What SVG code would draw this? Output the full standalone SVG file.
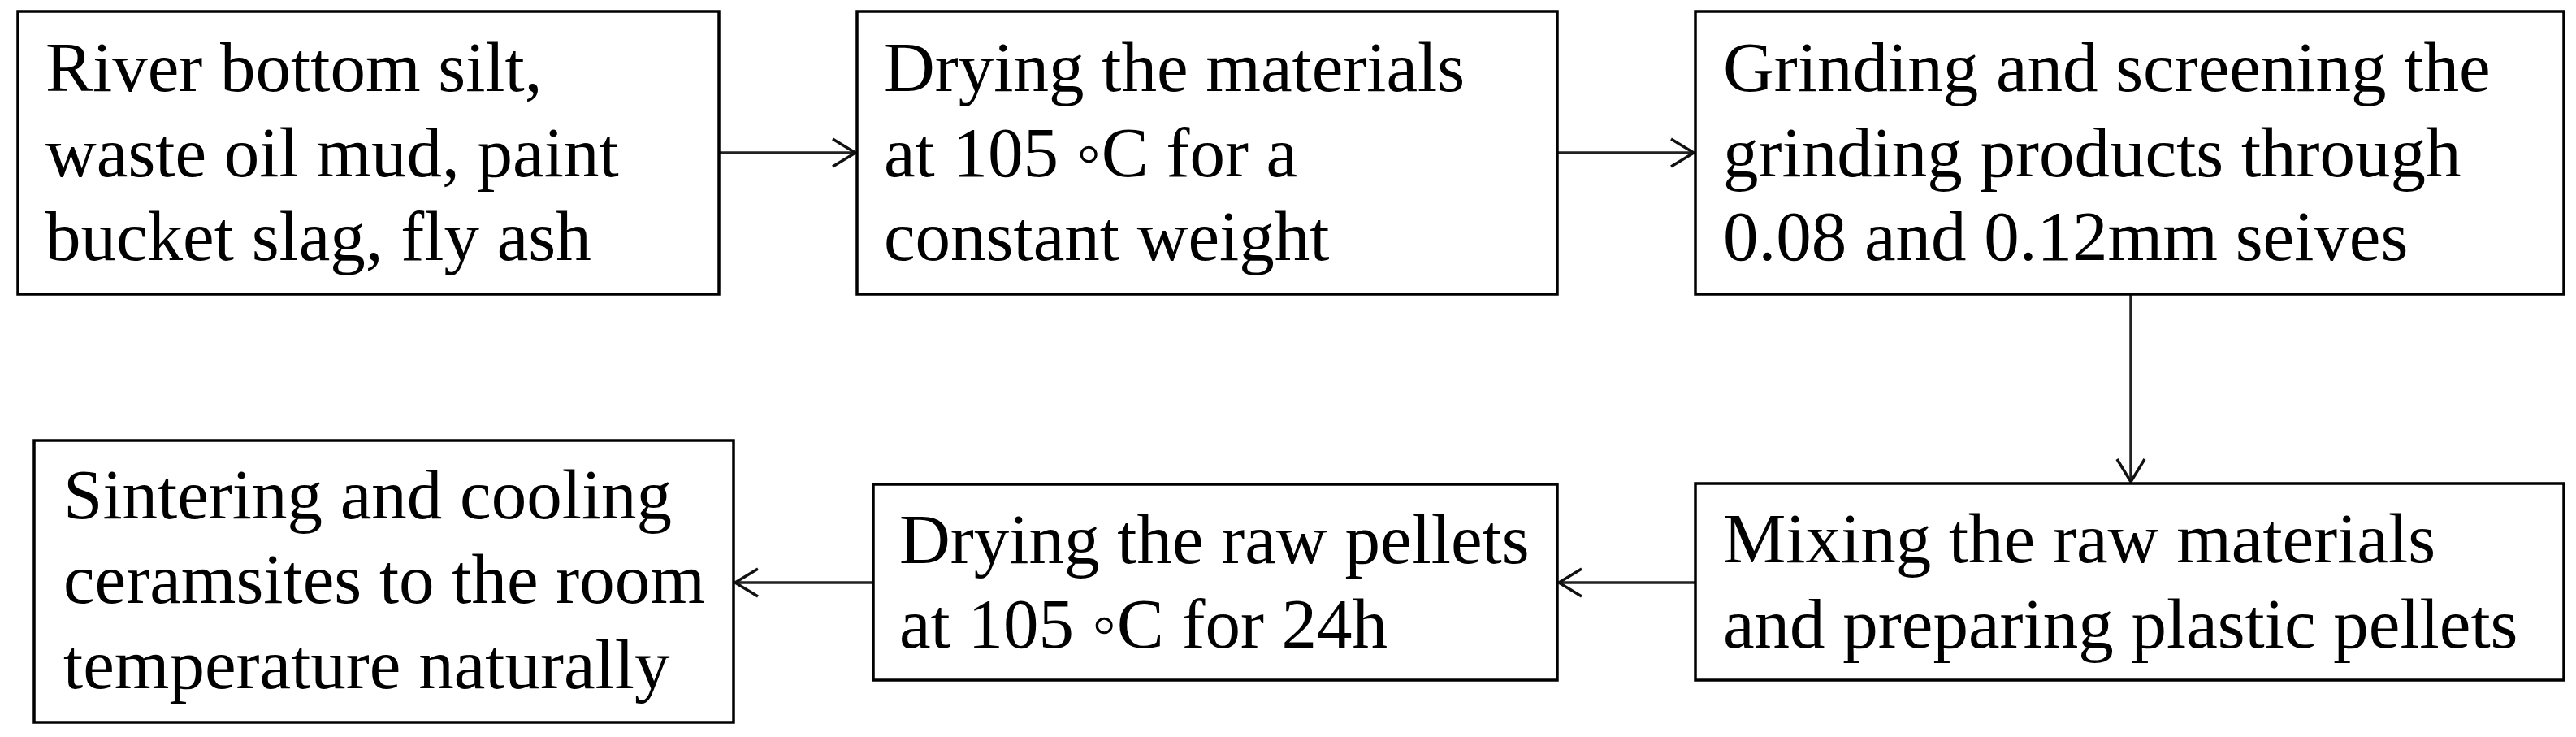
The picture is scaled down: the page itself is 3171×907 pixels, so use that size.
<svg xmlns="http://www.w3.org/2000/svg" width="3171" height="907" viewBox="0 0 3171 907">
<style>
.box{fill:#fff;stroke:#000;stroke-width:3.5}
.lbl{font-family:"Liberation Serif","Times New Roman",serif;font-size:87px;fill:#000}
.conn{stroke:#222;stroke-width:3.5;fill:none}
</style>
<defs>
<marker id="arr" markerUnits="userSpaceOnUse" viewBox="-32 -20 36 40" refX="0" refY="0" markerWidth="36" markerHeight="40" orient="auto" overflow="visible">
<path d="M-28,-17 L0,0 L-28,17" fill="none" stroke="#111" stroke-width="3.5"/>
</marker>
</defs>
<rect width="3171" height="907" fill="#fff"/>
<g id="connectors">
<line class="conn" x1="885" y1="188" x2="1053" y2="188" marker-end="url(#arr)"/>
<line class="conn" x1="1917" y1="188" x2="2085" y2="188" marker-end="url(#arr)"/>
<line class="conn" x1="2623" y1="362" x2="2623" y2="593" marker-end="url(#arr)"/>
<line class="conn" x1="2087" y1="717" x2="1919" y2="717" marker-end="url(#arr)"/>
<line class="conn" x1="1075" y1="717" x2="905" y2="717" marker-end="url(#arr)"/>
</g>
<g id="n1">
<rect class="box" x="22" y="14" width="863" height="348"/>
<text class="lbl" x="56" y="112">River bottom silt,</text>
<text class="lbl" x="56" y="217">waste oil mud, paint</text>
<text class="lbl" x="56" y="320">bucket slag, fly ash</text>
</g>
<g id="n2">
<rect class="box" x="1055" y="14" width="862" height="348"/>
<text class="lbl" x="1088" y="112">Drying the materials</text>
<text class="lbl" x="1088" y="217">at 105 ◦C for a</text>
<text class="lbl" x="1088" y="320">constant weight</text>
</g>
<g id="n3">
<rect class="box" x="2087" y="14" width="1069" height="348"/>
<text class="lbl" x="2121" y="112">Grinding and screening the</text>
<text class="lbl" x="2121" y="217">grinding products through</text>
<text class="lbl" x="2121" y="320">0.08 and 0.12mm seives</text>
</g>
<g id="n4">
<rect class="box" x="2087" y="595" width="1069" height="242"/>
<text class="lbl" x="2121" y="692">Mixing the raw materials</text>
<text class="lbl" x="2121" y="797">and preparing plastic pellets</text>
</g>
<g id="n5">
<rect class="box" x="1075" y="596" width="842" height="241"/>
<text class="lbl" x="1107" y="693">Drying the raw pellets</text>
<text class="lbl" x="1107" y="797">at 105 ◦C for 24h</text>
</g>
<g id="n6">
<rect class="box" x="42" y="542" width="861" height="347"/>
<text class="lbl" x="78" y="638">Sintering and cooling</text>
<text class="lbl" x="78" y="742">ceramsites to the room</text>
<text class="lbl" x="78" y="847">temperature naturally</text>
</g>
</svg>
